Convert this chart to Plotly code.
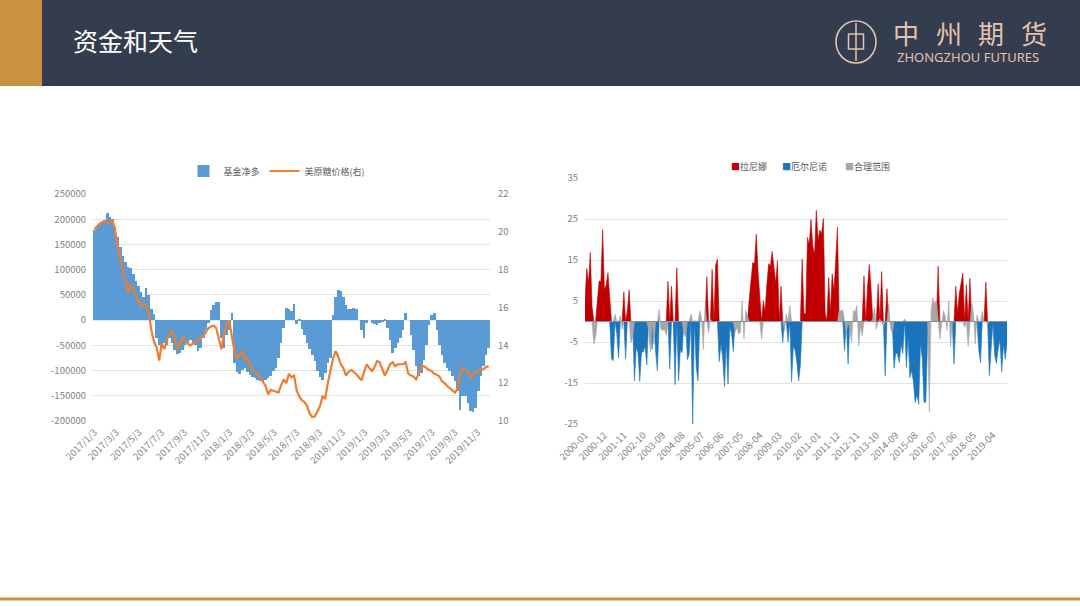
import pandas as pd
import plotly.graph_objects as go

# ---- left chart: fund net long vs raw sugar price (weekly) ----
week_dates = pd.date_range("2017-01-03", periods=153, freq="7D")

net_long = [
    178000, 185000, 190000, 193000, 198000, 212000, 205000, 200000, 185000, 165000,
    145000, 128000, 115000, 105000, 103000, 92000, 78000, 68000, 55000, 45000,
    63000, 50000, 22000, 12000, -35000, -50000, -55000, -45000, -50000, -35000,
    -45000, -60000, -68000, -65000, -60000, -50000, -45000, -40000, -48000, -50000,
    -62000, -55000, -35000, -20000, -5000, 20000, 30000, 35000, 36000, -35000,
    -55000, -30000, -20000, 15000, -85000, -103000, -107000, -98000, -95000, -103000,
    -108000, -112000, -115000, -118000, -120000, -122000, -118000, -115000, -110000, -100000,
    -95000, -75000, -45000, -15000, 25000, 22000, 18000, 32000, -8000, 2000,
    -18000, -30000, -45000, -58000, -70000, -82000, -100000, -112000, -118000, -105000,
    -85000, -75000, 10000, 45000, 60000, 58000, 45000, 30000, 22000, 22000,
    25000, 23000, 0, -20000, -35000, -5000, 0, -5000, -8000, -10000,
    -6000, -3000, 3000, -15000, -40000, -66000, -55000, -45000, -35000, -20000,
    15000, 0, -30000, -60000, -90000, -110000, -105000, -80000, -50000, -10000,
    10000, 15000, -20000, -50000, -70000, -85000, -95000, -100000, -110000, -120000,
    -140000, -178000, -150000, -150000, -165000, -180000, -182000, -175000, -140000, -110000,
    -90000, -70000, -55000,
]

sugar_price = [
    20.14, 20.28, 20.42, 20.5, 20.54, 20.5, 20.46, 20.6, 20.1, 19.2,
    18.5, 18.0, 17.47, 16.77, 17.2, 16.95, 16.6, 16.3, 16.07, 16.25,
    16.07, 15.7, 14.8, 14.2, 13.9, 13.2, 14.1, 13.8, 14.3, 14.6,
    14.8, 14.3, 13.8, 14.1, 14.4, 14.3, 14.1, 14.0, 14.1, 14.2,
    14.3, 14.4, 14.5, 14.7, 14.9, 15.0, 15.05, 14.9, 14.3, 13.8,
    14.6, 15.1, 15.3, 14.5, 13.7, 13.3, 13.5, 13.7, 13.26, 13.35,
    12.9, 12.7, 12.6, 12.5, 12.3, 12.05, 11.85, 11.4, 11.65, 11.6,
    11.55, 11.5, 11.9, 12.2, 12.0, 12.5, 12.3, 12.4, 11.6, 11.3,
    11.1, 11.0, 10.8, 10.4, 10.2, 10.25, 10.5, 10.8, 11.3, 11.2,
    12.0, 12.7, 13.3, 13.7, 13.4, 13.0, 12.8, 12.4, 12.6, 12.7,
    12.6, 12.47, 12.3, 12.15, 12.6, 13.0, 12.8, 12.65, 12.85, 13.17,
    13.1, 12.7, 12.4, 12.7, 13.0, 13.1, 12.9, 13.0, 13.0, 13.0,
    13.1, 12.5, 12.4, 12.35, 12.2, 12.5, 12.9, 12.9, 12.8, 12.7,
    12.65, 12.5, 12.45, 12.35, 12.1, 12.0, 11.85, 11.75, 11.6, 11.5,
    11.7, 12.5, 12.8, 12.7, 12.6, 12.3, 12.45, 12.6, 12.65, 12.7,
    12.75, 12.85, 12.9,
]

left_tick_dates = ["2017-01-03", "2017-03-03", "2017-05-03", "2017-07-03", "2017-09-03",
                   "2017-11-03", "2018-01-03", "2018-03-03", "2018-05-03", "2018-07-03",
                   "2018-09-03", "2018-11-03", "2019-01-03", "2019-03-03", "2019-05-03",
                   "2019-07-03", "2019-09-03", "2019-11-03"]
left_tick_text = ["2017/1/3", "2017/3/3", "2017/5/3", "2017/7/3", "2017/9/3", "2017/11/3",
                  "2018/1/3", "2018/3/3", "2018/5/3", "2018/7/3", "2018/9/3", "2018/11/3",
                  "2019/1/3", "2019/3/3", "2019/5/3", "2019/7/3", "2019/9/3", "2019/11/3"]
left_y_ticks = [250000, 200000, 150000, 100000, 50000, 0, -50000, -100000, -150000, -200000]
right_y_ticks = [22, 20, 18, 16, 14, 12, 10]

# ---- right chart: monthly index, coloured by phase ----
months = [f"{y}-{m:02d}" for y in range(2000, 2020) for m in range(1, 13)]

soi = [
    5.1, 12.9, 9.4, 16.8, 3.6, -5.5, -3.7, 5.3, 9.9, 9.7, 22.4, 7.7,
    8.9, 11.9, 6.7, -9.0, -9.6, 1.8, -3.0, -8.9, 1.4, -1.9, 7.2, -9.1,
    2.7, 7.7, -5.2, -3.8, -14.5, -6.3, -7.6, -14.6, -7.6, -7.4, -6.0, -10.6,
    -2.0, -7.4, -6.8, -5.5, -7.4, -12.0, 2.9, -1.8, -2.2, -1.9, -3.4, 9.8,
    -11.6, 8.6, 0.2, -15.4, 13.1, -14.4, -6.9, -7.6, -2.8, -3.7, -9.3, -8.0,
    1.8, -25.0, 0.2, -11.2, -14.5, 2.6, 0.9, -6.9, 3.9, 10.9, -2.7, 0.6,
    12.7, 0.1, 13.8, 15.2, -9.8, -5.5, -8.9, -15.9, -5.1, -15.3, -1.4, -3.0,
    -7.3, -2.7, -1.4, -3.0, -2.7, 5.0, -4.3, 2.7, 1.5, 5.4, 9.8, 14.4,
    14.1, 21.3, 12.2, 4.5, -4.3, 5.1, 2.4, 9.1, 14.1, 13.5, 17.1, 13.3,
    9.4, 14.8, 0.2, 8.6, -5.1, -2.3, 1.9, -5.0, 3.9, -14.7, -6.0, -7.0,
    -10.1, -14.5, -10.6, 15.2, 2.0, 1.8, 20.5, 18.8, 24.9, 18.3, 16.4, 27.1,
    19.9, 22.3, 21.4, 25.1, 2.1, 0.2, 10.7, 2.1, 11.7, 7.3, 13.8, 23.0,
    3.0, 2.5, 2.9, -7.1, -2.7, -10.4, -1.8, -5.0, 2.6, 2.4, 3.9, -6.0,
    -1.1, -3.6, 11.1, 0.3, 8.4, 13.9, 8.1, 0.6, 3.4, -1.9, 9.2, 0.6,
    12.2, -1.3, -13.3, 8.0, 4.4, -1.5, -3.0, -11.4, -7.6, -8.0, -10.0, -5.4,
    -7.8, 0.6, -11.2, -3.8, -13.7, -12.0, -14.7, -19.8, -17.8, -20.2, -5.3, -9.1,
    -19.7, -19.7, -4.7, -22.0, 2.8, 5.8, 4.2, 5.3, 13.5, -4.3, -0.7, 2.6,
    1.4, -2.2, 5.1, -6.1, -0.1, -10.4, 8.6, 2.1, 6.9, 9.1, 11.8, -1.4,
    9.0, -6.0, 10.5, 4.5, 2.1, -5.5, 1.6, -6.9, -10.1, 2.6, -0.1, 9.6,
    -0.6, -13.2, -6.4, -0.4, -8.2, -10.2, -6.7, -4.4, -12.4, -5.4, -9.2, -5.4,
]

# L = 拉尼娜, E = 厄尔尼诺, N = 合理范围 (one string per year)
phase_by_year = [
    "LLLLLNNLLLLL", "LLLEENEENNLE", "LLNNEEEEEEEE", "NNENEENNNNNL",
    "ELNELEEENNEE", "NENEENNNNLNN", "LLLLEEEEEEEE", "ENNNNNNNNLLL",
    "LLLLNLLLLLLL", "LLLLENNENEEE", "EEELLLLLLLLL", "LLLLLLLLLLLL",
    "NNNENENNNNNN", "NNLNLLLNNNLN", "LNELNNNEEEEE", "ENEEEEEEEEEE",
    "EEENNNNNLNNN", "NNNNNELLLLLN", "LNLNNNNEENNL", "NEEEEEEEEEEE",
]
phase = "".join(phase_by_year)

la_nina = [v if p == "L" else 0 for v, p in zip(soi, phase)]
el_nino = [v if p == "E" else 0 for v, p in zip(soi, phase)]
normal = [v if p == "N" else 0 for v, p in zip(soi, phase)]

right_x_ticks = months[::11]
soi_ticks = [35, 25, 15, 5, -5, -15, -25]

FONT = "Noto Sans CJK SC"
TICK = dict(family=FONT, size=9.5, color="#7f7f7f")
GRID = "#e3e3e3"
W, H = 1080, 607


def px_x(v):
    return v / W


def px_y(v):
    return 1 - v / H


fig = go.Figure()

fig.add_trace(go.Bar(
    x=week_dates, y=net_long, name="基金净多",
    marker=dict(color="#5B9BD5", line=dict(width=0)),
    xaxis="x", yaxis="y", legend="legend",
))
fig.add_trace(go.Scatter(
    x=week_dates, y=sugar_price, name="美原糖价格(右)", mode="lines",
    line=dict(color="#ED7D31", width=2.2),
    xaxis="x", yaxis="y2", legend="legend",
))

area_series = [
    ("拉尼娜", la_nina, "#C00000"),
    ("厄尔尼诺", el_nino, "#1B75BC"),
    ("合理范围", normal, "#A6A6A6"),
]
for name, vals, color in area_series:
    fig.add_trace(go.Scatter(
        x=months, y=vals, mode="lines", fill="tozeroy", name=name,
        line=dict(color=color, width=0.6), fillcolor=color,
        xaxis="x2", yaxis="y3", showlegend=False, hoverinfo="skip",
    ))

shapes = [
    # header band and gold block
    dict(type="rect", xref="paper", yref="paper", x0=0, x1=1, y0=px_y(86), y1=1,
         fillcolor="#343D4E", line=dict(width=0), layer="below"),
    dict(type="rect", xref="paper", yref="paper", x0=0, x1=px_x(42), y0=px_y(86), y1=1,
         fillcolor="#C9923F", line=dict(width=0), layer="below"),
    # bottom rule
    dict(type="rect", xref="paper", yref="paper", x0=0, x1=1, y0=px_y(600.5), y1=px_y(597.5),
         fillcolor="#C9923F", line=dict(width=0)),
    # logo
    dict(type="circle", xref="paper", yref="paper", x0=px_x(836), x1=px_x(876),
         y0=px_y(63), y1=px_y(21), line=dict(color="#E2C2B0", width=1.6)),
    dict(type="rect", xref="paper", yref="paper", x0=px_x(848.5), x1=px_x(863.5),
         y0=px_y(49), y1=px_y(34), line=dict(color="#E2C2B0", width=1.5)),
    dict(type="line", xref="paper", yref="paper", x0=px_x(856), x1=px_x(856),
         y0=px_y(61), y1=px_y(23), line=dict(color="#E2C2B0", width=1.5)),
]

annotations = [
    dict(text="资金和天气", x=px_x(71), y=px_y(40), xref="paper", yref="paper",
         xanchor="left", yanchor="middle", showarrow=False,
         font=dict(family=FONT, size=25, color="#FFFFFF")),
    dict(text="ZHONGZHOU FUTURES", x=px_x(968), y=px_y(57), xref="paper", yref="paper",
         xanchor="center", yanchor="middle", showarrow=False,
         font=dict(family="Noto Sans", size=13, color="#E2C2B0")),
]
for i, ch in enumerate("中州期货"):
    annotations.append(dict(
        text=ch, x=px_x(906 + i * 42.5), y=px_y(33), xref="paper", yref="paper",
        xanchor="center", yanchor="middle", showarrow=False,
        font=dict(family=FONT, size=26, color="#E2C2B0"),
    ))

# compact legend of the right chart: small coloured squares right before the names
legend2_x = [729, 780, 843]
for (name, vals, color), lx in zip(area_series, legend2_x):
    annotations.append(dict(
        text=f"<span style='color:{color}'>■</span>{name}",
        x=px_x(lx), y=px_y(166), xref="paper", yref="paper",
        xanchor="left", yanchor="middle", showarrow=False,
        font=dict(family=FONT, size=9, color="#595959"),
    ))

fig.update_layout(
    template="none",
    width=W, height=H,
    margin=dict(l=0, r=0, t=0, b=0, pad=0),
    paper_bgcolor="white", plot_bgcolor="white",
    font=dict(family=FONT, color="#7f7f7f"),
    bargap=0,
    showlegend=True,
    xaxis=dict(
        domain=[px_x(93), px_x(490)], anchor="y", type="date", automargin=False,
        range=["2016-12-30 12:00", "2019-12-06 12:00"],
        tickmode="array", tickvals=left_tick_dates, ticktext=left_tick_text,
        tickangle=-45, tickfont=TICK, showgrid=False, zeroline=False, showline=False,
        ticks="", ticklabelstandoff=3,
    ),
    yaxis=dict(
        domain=[px_y(421), px_y(194)], anchor="x", automargin=False,
        range=[-200000, 250000], tickmode="array", tickvals=left_y_ticks,
        ticktext=[str(v) for v in left_y_ticks],
        tickfont=TICK, showgrid=True, gridcolor=GRID, gridwidth=1,
        zeroline=False, showline=False, ticks="", ticklabelstandoff=6,
    ),
    yaxis2=dict(
        overlaying="y", side="right", anchor="x", automargin=False,
        range=[10, 22], tickmode="array", tickvals=right_y_ticks,
        ticktext=[str(v) for v in right_y_ticks],
        tickfont=TICK, showgrid=False, zeroline=False, showline=False, ticks="",
        ticklabelstandoff=7,
    ),
    xaxis2=dict(
        domain=[px_x(585), px_x(1007)], anchor="y3", type="category", automargin=False,
        range=[0, len(months) - 1],
        tickmode="array", tickvals=right_x_ticks, ticktext=right_x_ticks,
        tickangle=-45, tickfont=TICK, showgrid=False, zeroline=False, showline=False,
        ticks="", ticklabelstandoff=3,
    ),
    yaxis3=dict(
        domain=[px_y(424), px_y(178)], anchor="x2", automargin=False,
        range=[-25, 35], tickmode="array", tickvals=soi_ticks,
        ticktext=[str(v) for v in soi_ticks],
        tickfont=TICK, showgrid=True, gridcolor=GRID, gridwidth=1,
        zeroline=False, showline=False, ticks="", ticklabelstandoff=6,
    ),
    legend=dict(
        orientation="h", x=px_x(277), y=px_y(171), xanchor="center", yanchor="middle",
        font=dict(family=FONT, size=9, color="#595959"), bgcolor="rgba(0,0,0,0)",
        itemwidth=30, traceorder="normal",
    ),
    shapes=shapes,
    annotations=annotations,
)

# drop the browser's default 8px body margin so the slide sits at the window origin
fig.write_html("out.html", config={"displayModeBar": False},
               post_script="document.body.style.margin='0';")
